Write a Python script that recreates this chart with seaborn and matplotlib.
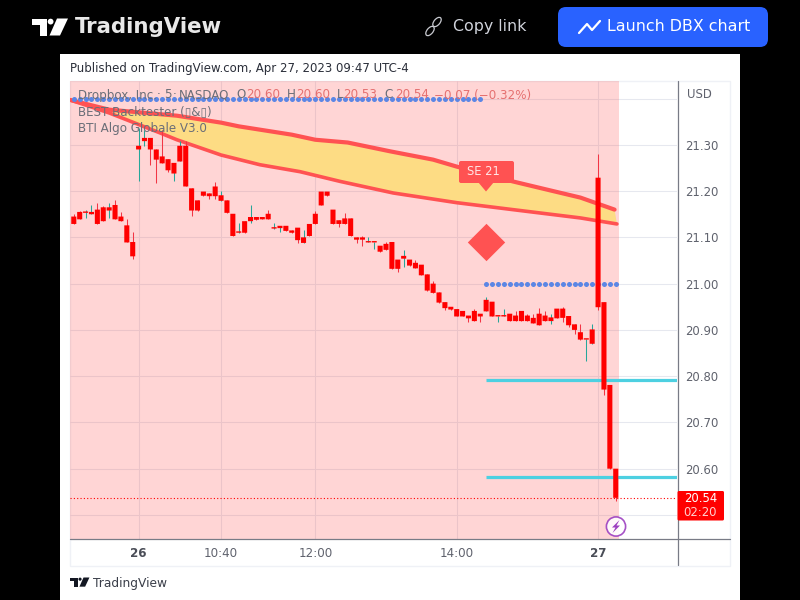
import numpy as np
import pandas as pd
import matplotlib
matplotlib.use("Agg")
import matplotlib.pyplot as plt
import seaborn as sns
from matplotlib.patches import Rectangle, Polygon, FancyBboxPatch, Circle, Ellipse
from matplotlib.lines import Line2D
from matplotlib.transforms import Affine2D

# candles, 5 min bars
opens = [21.145,21.155,21.153,21.150,21.160,21.165,21.158,21.170,21.145,21.126,21.090,
         21.290,21.308,21.315,21.290,21.275,21.269,21.238,21.264,21.298,21.206,21.180,
         21.199,21.195,21.210,21.179,21.180,21.151,21.110,21.135,21.135,21.144,21.144,
         21.151,21.119,21.120,21.125,21.115,21.121,21.088,21.129,21.151,21.199,21.199,
         21.160,21.137,21.141,21.141,21.100,21.100,21.089,21.089,21.082,21.086,21.090,
         21.052,21.054,21.052,21.045,21.041,21.020,21.000,20.981,20.960,20.950,20.945,
         20.941,20.931,20.941,20.935,20.940,20.961,20.929,20.929,20.935,20.931,20.941,
         20.931,20.926,20.935,20.931,20.919,20.946,20.946,20.930,20.912,20.895,20.879,
         20.870,21.229,20.960,20.781,20.600]
highs = [21.151,21.158,21.160,21.170,21.174,21.168,21.175,21.181,21.155,21.139,21.111,
         21.336,21.332,21.315,21.290,21.332,21.269,21.261,21.308,21.308,21.206,21.180,
         21.199,21.195,21.220,21.200,21.180,21.151,21.130,21.135,21.170,21.144,21.144,
         21.159,21.130,21.125,21.125,21.115,21.121,21.115,21.129,21.156,21.199,21.199,
         21.160,21.137,21.152,21.141,21.100,21.103,21.100,21.090,21.082,21.090,21.090,
         21.052,21.072,21.052,21.052,21.041,21.020,21.005,20.981,20.960,20.950,20.945,
         20.941,20.931,20.946,20.935,20.972,20.961,20.931,20.946,20.935,20.941,20.941,
         20.935,20.934,20.947,20.941,20.935,20.946,20.950,20.930,20.912,20.913,20.880,
         20.913,21.280,20.960,20.781,20.600]
lows = [21.129,21.139,21.142,21.150,21.129,21.135,21.142,21.139,21.135,21.089,21.053,
        21.222,21.298,21.256,21.217,21.260,21.242,21.222,21.264,21.210,21.146,21.158,
        21.190,21.183,21.184,21.179,21.153,21.102,21.110,21.110,21.130,21.138,21.139,
        21.139,21.119,21.112,21.114,21.110,21.087,21.088,21.103,21.129,21.169,21.190,
        21.129,21.122,21.129,21.103,21.087,21.082,21.089,21.075,21.069,21.073,21.032,
        21.026,21.035,21.039,21.033,21.018,20.985,20.980,20.959,20.942,20.944,20.929,
        20.929,20.916,20.919,20.916,20.940,20.929,20.917,20.929,20.919,20.919,20.919,
        20.919,20.914,20.910,20.919,20.913,20.925,20.918,20.906,20.892,20.879,20.832,
        20.870,20.944,20.760,20.600,20.530]
closes = [21.129,21.139,21.155,21.155,21.129,21.135,21.165,21.139,21.135,21.089,21.059,
          21.298,21.315,21.290,21.268,21.260,21.245,21.261,21.298,21.210,21.158,21.158,
          21.190,21.189,21.189,21.191,21.153,21.103,21.112,21.110,21.144,21.138,21.139,
          21.139,21.121,21.125,21.114,21.110,21.094,21.100,21.103,21.129,21.169,21.190,
          21.129,21.129,21.129,21.103,21.095,21.095,21.091,21.090,21.069,21.073,21.032,
          21.032,21.060,21.039,21.033,21.018,20.985,20.980,20.959,20.947,20.944,20.929,
          20.929,20.925,20.919,20.929,20.965,20.929,20.931,20.931,20.919,20.919,20.919,
          20.919,20.914,20.910,20.919,20.927,20.925,20.926,20.910,20.900,20.879,20.880,
          20.901,20.949,20.771,20.600,20.537]

# moving averages, read at these bar positions
upper_pos = [-0.6,6,17.5,25,28,37,41,46.5,53.7,61,65,74.5,80.4,86,91.8]
upper_val = [21.397,21.376,21.363,21.348,21.340,21.322,21.311,21.305,21.286,21.268,
             21.253,21.221,21.203,21.186,21.160]
lower_pos = [-0.6,6,14.6,17.5,25,31.6,38.4,45.2,54.2,65,74.5,86,92.2]
lower_val = [21.397,21.369,21.326,21.311,21.278,21.257,21.242,21.221,21.196,21.175,
             21.160,21.142,21.129]

# levels from the strategy
top_level = 21.40
top_level_bars = list(range(0, 70))
mid_level = 21.00
mid_level_bars = list(range(70, 93))
target_levels = [20.792, 20.582]
entry_bar = 70
signal_price = 21.09

price_ticks = [20.5,20.6,20.7,20.8,20.9,21.0,21.1,21.2,21.3,21.4]
price_labels = ["","20.60","20.70","20.80","20.90","21.00","21.10","21.20","21.30",""]
time_ticks = [11,25,41,65,89]
time_labels = ["26","10:40","12:00","14:00","27"]

RED = "#ff5252"
GREY = "#6b6e78"
VALUE = "#e57070"
TICK = "#5f626d"

sns.set_style("white")
plt.rcParams["font.family"] = ["DejaVu Sans"]

fig = plt.figure(figsize=(8, 6), dpi=100, facecolor="black")
px = Affine2D().scale(1, -1).translate(0, 600)  # page pixels, y going down

def put(artist, z=-5):
    artist.set_transform(px)
    artist.set_zorder(z)
    fig.add_artist(artist)

def label(x, y, s, size=8.6, color=GREY, ha="left", **kw):
    fig.text(x / 800, 1 - y / 600, s, fontsize=size, color=color, ha=ha, va="center", zorder=8, **kw)

def logo(x, y, k, color, z=-4):
    put(Polygon([(x, y), (x+15*k, y), (x+15*k, y+17*k), (x+8*k, y+17*k), (x+8*k, y+6.5*k), (x, y+6.5*k)],
                closed=True, fc=color, lw=0), z)
    put(Circle((x+18.6*k, y+3.1*k), 2.9*k, fc=color, lw=0), z)
    put(Polygon([(x+25*k, y), (x+36*k, y), (x+28*k, y+17*k), (x+17.5*k, y+17*k)], closed=True, fc=color, lw=0), z)

# page
put(Rectangle((60, 54), 680, 546, fc="white", lw=0), -6)
put(Rectangle((70, 80.5), 660, 485, fc="none", ec="#eff1f6", lw=1), -5)
logo(32, 18.5, 1.0, "white")
label(74.5, 27, "TradingView", size=15.3, color="#e8e8e8", fontweight="bold")
put(Ellipse((437, 22), 6, 11, angle=40, fc="none", ec="#c8cad0", lw=0.9), -4)
put(Ellipse((430, 31), 6, 11, angle=40, fc="none", ec="#c8cad0", lw=0.9), -4)
label(453, 26.5, "Copy link", size=11.4, color="#d1d4dc")
put(FancyBboxPatch((558, 7), 210, 40, boxstyle="round,pad=0,rounding_size=8", fc="#2962ff", lw=0), -4)
put(Line2D([579, 587, 592, 600], [33, 24, 30, 21], color="white", lw=1.6), -3)
label(607, 26.5, "Launch DBX chart", size=11.4, color="white")
label(70, 68.5, "Published on TradingView.com, Apr 27, 2023 09:47 UTC-4", size=8.5, color="#2a2e39")
logo(70, 577.5, 0.54, "#131722")
label(93, 583, "TradingView", size=8.8, color="#3a3e49")

# chart pane
ax = fig.add_axes([70 / 800, 1 - 539 / 600, 607 / 800, 458 / 600])
ax.patch.set_alpha(0)
for s in ax.spines.values():
    s.set_visible(False)

bars = np.arange(len(opens))
df = pd.DataFrame({"bar": bars, "open": opens, "high": highs, "low": lows, "close": closes})
df["bottom"] = df[["open", "close"]].min(axis=1)
df["height"] = (df["open"] - df["close"]).abs().clip(lower=0.003)
df["wick"] = np.where(df["close"] > df["open"], "#26a69a", "#f23645")

ax.axvspan(-0.65, 92.56, color=RED, alpha=0.24, lw=0, zorder=1)

ax.fill(upper_pos + lower_pos[::-1], upper_val + lower_val[::-1], color="#fddc84", lw=0, zorder=2)
sns.lineplot(x=upper_pos, y=upper_val, color=RED, lw=3, ax=ax, zorder=3, estimator=None, sort=False)
sns.lineplot(x=lower_pos, y=lower_val, color=RED, lw=2.6, ax=ax, zorder=3, estimator=None, sort=False)

sns.scatterplot(x=top_level_bars, y=[top_level] * len(top_level_bars), s=13, color="#5b86e5", linewidth=0, ax=ax, zorder=3)
sns.scatterplot(x=mid_level_bars, y=[mid_level] * len(mid_level_bars), s=13, color="#5b86e5", linewidth=0, ax=ax, zorder=3)
for lv in target_levels:
    ax.plot([entry_bar, 103], [lv, lv], color="#4dd0e1", lw=2.3, zorder=3, solid_capstyle="butt")
sns.scatterplot(x=[entry_bar], y=[signal_price], marker="D", s=362, color=RED, linewidth=0, ax=ax, zorder=3)

ax.vlines(df["bar"], df["low"], df["high"], colors=df["wick"], lw=0.75, zorder=4)
bodies = ax.bar(df["bar"], df["height"], bottom=df["bottom"], width=0.86, color="#ff0000", lw=0, zorder=5)
for b in bodies:
    b.set_snap(False)

ax.axhline(closes[-1], color="#ff0000", lw=0.8, ls=(0, (1, 2)), zorder=6)

ax.set_xlim(-0.645, 102.4)
ax.set_ylim(20.448, 21.438)
ax.set_xticks(time_ticks)
ax.set_xticklabels(time_labels)
ax.set_yticks(price_ticks)
ax.set_yticklabels(price_labels)
ax.yaxis.tick_right()
ax.tick_params(axis="x", length=0, pad=5.5, labelsize=8.6, labelcolor=TICK)
ax.tick_params(axis="y", length=0, pad=5.8, labelsize=8.4, labelcolor=TICK)
for t in [ax.get_xticklabels()[0], ax.get_xticklabels()[4]]:
    t.set_fontweight("bold")
    t.set_color("#4a4d57")
ax.grid(True, color="#e6e8ef", lw=0.75)
ax.set_axisbelow(True)

# pane frame on top of the plot
put(Line2D([70, 730], [539, 539], color="#787b86", lw=0.9), 6)
put(Line2D([677.5, 677.5], [81, 565], color="#787b86", lw=0.9), 6)

# legend block
label(78, 95, "Dropbox, Inc.", size=8.6)
label(157, 95, "·", size=8.6)
label(164, 95, "5", size=8.6)
label(172.5, 95, "·", size=8.6)
label(179, 95, "NASDAQ", size=8.6)
label(236.5, 95, "O", size=8.6)
label(246, 95, "20.60", size=8.6, color=VALUE)
label(286.5, 95, "H", size=8.6)
label(296.5, 95, "20.60", size=8.6, color=VALUE)
label(337, 95, "L", size=8.6)
label(343.5, 95, "20.53", size=8.6, color=VALUE)
label(384.5, 95, "C", size=8.6)
label(395, 95, "20.54", size=8.6, color=VALUE)
label(434, 95, "−0.07 (−0.32%)", size=8.6, color=VALUE)
label(78, 112, "BEST Backtester (▯&▯)", size=8.6)
label(78, 128.5, "BTI Algo Globale V3.0", size=8.6)
label(687, 94, "USD", size=8.4, color=TICK)

# SE 21 flag
put(FancyBboxPatch((459, 161), 55, 22, boxstyle="round,pad=0,rounding_size=2", fc=RED, lw=0), 7)
put(Polygon([(478, 182), (494, 182), (486, 191.5)], closed=True, fc=RED, lw=0), 7)
label(467, 171.5, "SE 21", size=8.3, color="#ffe6e6")

# last price tag
put(FancyBboxPatch((677.5, 491), 46.5, 29.5, boxstyle="round,pad=0,rounding_size=1.5", fc="#ff0000", lw=0), 7)
label(700.5, 498.5, "20.54", size=8.4, color="white", ha="center")
label(700.5, 513, "02:20", size=8.4, color="#ffd0d0", ha="center")

# alert icon
put(Circle((616, 526.5), 9.6, fc="#ffffff", ec="#9c3fc0", lw=1.2, alpha=0.9), 7)
put(Polygon([(619.5, 520), (612, 527.5), (615.5, 527.5), (612.5, 533), (620, 525.5), (616.5, 525.5)],
            closed=True, fc="#9c3fc0", lw=0), 7)

fig.savefig("out.png", dpi=100, facecolor="black")
